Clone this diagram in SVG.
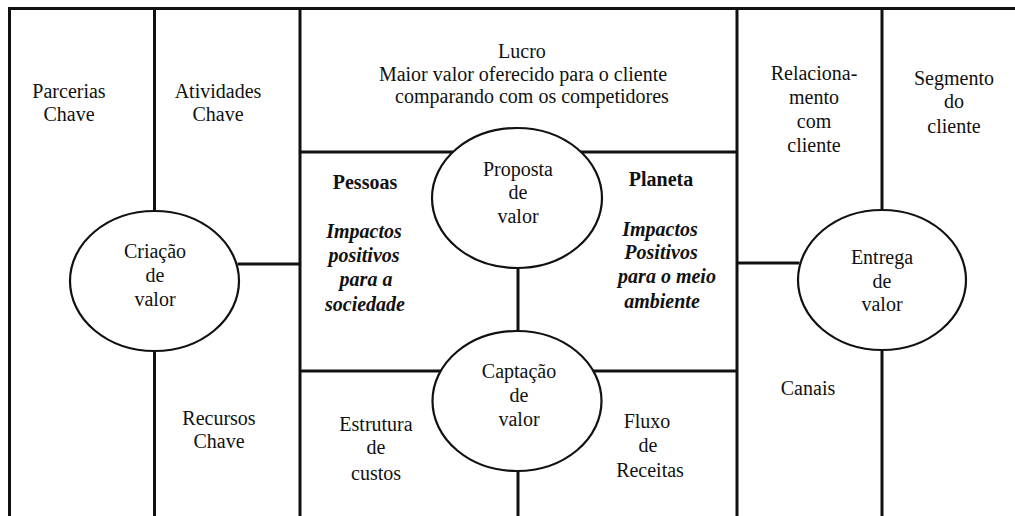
<svg xmlns="http://www.w3.org/2000/svg" width="1015" height="516" viewBox="0 0 1015 516">
<style>
.ln{stroke:#111;stroke-width:3;fill:none;stroke-linecap:square}
.el{stroke:#111;stroke-width:2.2;fill:#fff}
text{font-size:20px;fill:#111;text-anchor:middle}
.b{font-weight:bold}
.bi{font-weight:bold;font-style:italic}
</style>
<rect width="1015" height="516" fill="#fff"/>
<g id="connectors">
<path class="ln" d="M9.5 8.5H1015 M9.5 8.5V516 M154.5 8.5V211 M154.5 351V516 M300 8.5V516 M737 8.5V516 M882 8.5V209 M882 350V516 M300 152H737 M300 371H737 M518 268V331 M518 471V516 M239 264H300 M737 263H798"/>
</g>
<g font-family="Liberation Serif, serif">
<g id="parcerias"><text x="69" y="98">Parcerias</text><text x="69" y="121">Chave</text></g>
<g id="atividades"><text x="218" y="98">Atividades</text><text x="218" y="121">Chave</text></g>
<g id="recursos"><text x="219" y="425">Recursos</text><text x="219" y="448">Chave</text></g>
<g id="criacao"><ellipse class="el" cx="154.5" cy="281" rx="84.5" ry="70"/><text x="155" y="258">Criação</text><text x="155" y="282">de</text><text x="155" y="306">valor</text></g>
<g id="lucro"><text x="522" y="58">Lucro</text><text x="523" y="81">Maior valor oferecido para o cliente</text><text x="532" y="103">comparando com os competidores</text></g>
<g id="pessoas"><text class="b" x="365" y="189">Pessoas</text><text class="bi" x="364" y="238">Impactos</text><text class="bi" x="364" y="262">positivos</text><text class="bi" x="366" y="286">para a</text><text class="bi" x="365" y="311">sociedade</text></g>
<g id="planeta"><text class="b" x="661" y="186">Planeta</text><text class="bi" x="660" y="236">Impactos</text><text class="bi" x="661" y="259">Positivos</text><text class="bi" x="667" y="283">para o meio</text><text class="bi" x="662" y="308">ambiente</text></g>
<g id="proposta"><ellipse class="el" cx="517" cy="198" rx="85" ry="70"/><text x="518" y="176">Proposta</text><text x="518" y="199">de</text><text x="518" y="223">valor</text></g>
<g id="captacao"><ellipse class="el" cx="517" cy="401" rx="84.5" ry="70"/><text x="519" y="378">Captação</text><text x="519" y="402">de</text><text x="519" y="426">valor</text></g>
<g id="estrutura"><text x="376" y="431">Estrutura</text><text x="376" y="454">de</text><text x="376" y="480">custos</text></g>
<g id="fluxo"><text x="647" y="428">Fluxo</text><text x="648" y="452">de</text><text x="650" y="477">Receitas</text></g>
<g id="relacionamento"><text x="814" y="80">Relaciona-</text><text x="814" y="104">mento</text><text x="814" y="128">com</text><text x="814" y="152">cliente</text></g>
<g id="segmento"><text x="954" y="85">Segmento</text><text x="954" y="108">do</text><text x="954" y="133">cliente</text></g>
<g id="entrega"><ellipse class="el" cx="882" cy="280" rx="84" ry="70"/><text x="882" y="264">Entrega</text><text x="882" y="288">de</text><text x="882" y="311">valor</text></g>
<g id="canais"><text x="808" y="395">Canais</text></g>
</g>
</svg>
